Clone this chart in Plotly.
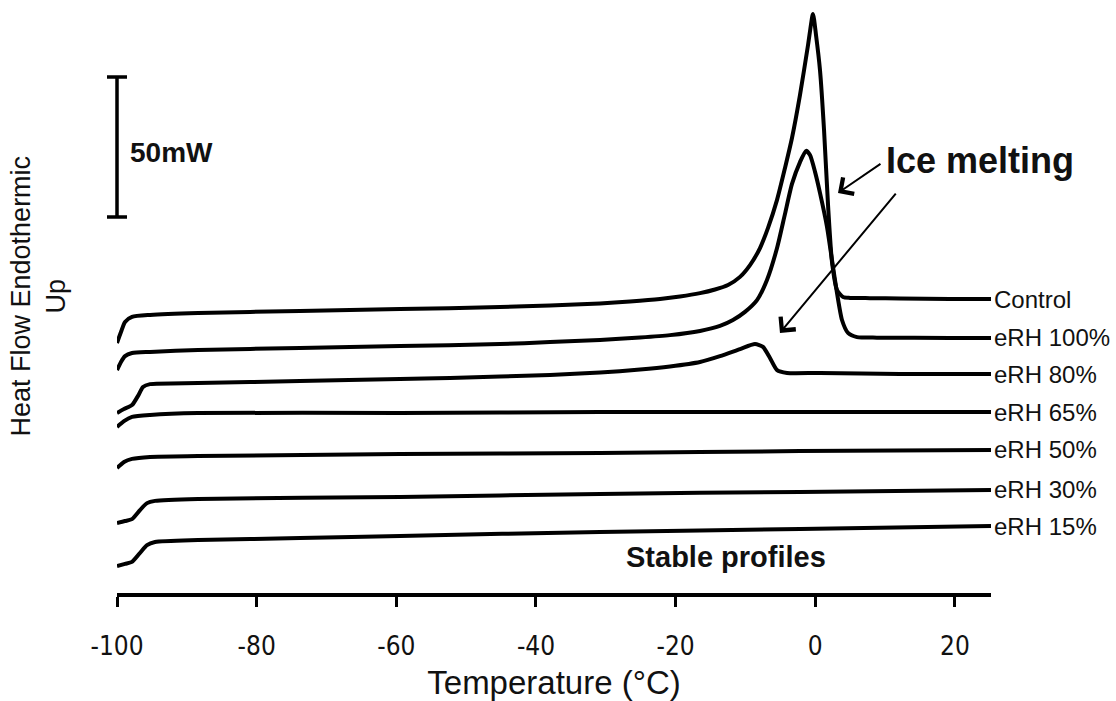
import plotly.graph_objects as go

# DSC heating scans, heat flow (mW, curves offset vertically) vs temperature (°C)
series_names = ["Control", "eRH 100%", "eRH 80%", "eRH 65%", "eRH 50%", "eRH 30%", "eRH 15%"]

control_t = [-100.0, -99.43, -98.85, -97.85, -95.27, -88.40, -73.79, -59.47, -45.15, -37.99,
             -30.83, -26.54, -22.24, -19.38, -16.51, -14.36, -12.50, -10.78, -9.35, -7.92,
             -6.77, -5.48, -4.34, -3.34, -2.19, -1.04, -0.33, 0.10, 0.67, 1.25,
             1.82, 2.39, 3.11, 3.97, 4.97, 7.83, 12.13, 19.29, 25.16]
control_hf = [89.3, 93.2, 96.8, 98.6, 99.3, 100.0, 100.7, 101.4, 102.1, 102.7,
              103.4, 104.1, 105.0, 105.9, 107.1, 108.4, 110.0, 112.9, 117.1, 123.2,
              130.4, 140.4, 151.8, 162.5, 177.9, 195.7, 206.8, 199.3, 186.8, 165.4,
              138.6, 118.2, 108.2, 105.7, 105.4, 105.3, 105.2, 105.0, 105.0]

rh100_t = [-100.0, -99.43, -98.85, -97.85, -95.27, -88.40, -73.79, -59.47, -45.15, -37.99,
           -30.83, -25.10, -20.81, -16.51, -13.65, -11.79, -10.07, -8.35, -6.92, -5.48,
           -4.34, -3.34, -2.19, -1.33, -0.76, -0.04, 0.67, 1.68, 2.39, 3.11,
           3.82, 4.68, 5.97, 8.83, 19.29, 25.16]
rh100_hf = [79.6, 82.5, 84.6, 85.7, 86.1, 86.8, 87.5, 88.2, 88.9, 89.6,
            90.4, 91.25, 92.1, 93.6, 95.4, 97.5, 100.4, 104.6, 111.8, 123.2,
            135.4, 146.1, 153.9, 157.9, 156.4, 150.4, 142.9, 130.7, 118.9, 107.1,
            97.5, 92.9, 91.4, 91.2, 91.1, 91.1]

rh80_t = [-100.0, -99.00, -97.85, -96.99, -96.28, -95.27, -88.40, -73.79, -59.47, -52.31,
          -45.15, -37.99, -30.83, -25.10, -20.81, -16.51, -13.65, -10.78, -8.64, -7.49,
          -6.49, -5.48, -4.05, 0.67, 12.13, 25.16]
rh80_hf = [64.3, 65.7, 67.1, 70.4, 73.6, 74.6, 75.0, 75.7, 76.4, 76.8,
           77.3, 77.9, 78.75, 79.8, 80.9, 82.5, 84.6, 87.1, 88.9, 87.9,
           83.9, 79.6, 78.6, 78.6, 78.2, 78.2]

rh65_t = [-100.0, -99.00, -97.85, -95.27, -88.40, -59.47, -30.83, -2.19, 25.16]
rh65_hf = [59.3, 61.4, 62.9, 63.6, 64.3, 64.3, 64.6, 64.6, 64.6]

rh50_t = [-100.0, -99.00, -97.85, -95.27, -88.40, -59.47, -30.83, -2.19, 25.16]
rh50_hf = [44.6, 46.8, 47.9, 48.6, 48.9, 49.6, 50.0, 50.7, 51.1]

rh30_t = [-100.0, -98.85, -97.85, -96.71, -95.70, -94.56, -88.40, -59.47, -30.83, -2.19, 25.16]
rh30_hf = [25.0, 25.7, 26.4, 29.6, 32.1, 32.9, 33.6, 34.3, 35.4, 36.1, 36.8]

rh15_t = [-100.0, -98.85, -97.85, -96.71, -95.70, -94.56, -88.40, -73.79, -59.47, -30.83, -2.19, 25.16]
rh15_hf = [9.6, 10.4, 11.1, 14.3, 17.1, 18.2, 18.9, 19.6, 20.4, 21.8, 22.9, 23.9]

series_t = [control_t, rh100_t, rh80_t, rh65_t, rh50_t, rh30_t, rh15_t]
series_hf = [control_hf, rh100_hf, rh80_hf, rh65_hf, rh50_hf, rh30_hf, rh15_hf]

# scale bar (mW) and x ticks
scale_bar_mw = 50
scale_bar_base = 134.3
scale_bar_t = -100.0
x_ticks = [-100, -80, -60, -40, -20, 0, 20]

x_min, x_max = -100.0, 25.16
FONT = "Arial, 'Liberation Sans', Helvetica, sans-serif"
NARROW = "'Liberation Sans Narrow', 'Arial Narrow', 'DejaVu Sans Condensed', Arial, sans-serif"
INK = "#111111"

# figure geometry: the visible temperature axis starts a little inside the
# plotting area so the scale bar's caps (on a hidden twin axis) are not clipped
W, H = 1116, 701
M_L, M_R, M_T, M_B = 100, 125, 0, 108
plot_w = W - M_L - M_R
axis_px = 874  # width of the visible temperature axis
x_dom0 = 1 - axis_px / plot_w
px_per_deg = axis_px / (x_max - x_min)
x2_min = x_min - (plot_w - axis_px) / px_per_deg

fig = go.Figure()

for name, t, hf in zip(series_names, series_t, series_hf):
    fig.add_trace(go.Scatter(
        x=t, y=hf, mode="lines", name=name,
        line=dict(color="black", width=4, shape="spline", smoothing=0.6),
        showlegend=False, hoverinfo="skip",
    ))

# vertical scale bar drawn as an error bar with caps
fig.add_trace(go.Scatter(
    x=[scale_bar_t], y=[scale_bar_base], mode="markers", xaxis="x2", yaxis="y",
    marker=dict(size=1, color="rgba(0,0,0,0)"),
    error_y=dict(type="data", array=[scale_bar_mw], arrayminus=[0], symmetric=False,
                 color="black", thickness=3.5, width=10),
    cliponaxis=False, showlegend=False, hoverinfo="skip",
))

annotations = []
for name, t, hf in zip(series_names, series_t, series_hf):
    annotations.append(dict(
        x=t[-1], y=hf[-1], xref="x", yref="y", text=name, showarrow=False,
        xanchor="left", yanchor="middle", xshift=1,
        font=dict(family=FONT, size=24, color=INK),
    ))

annotations += [
    dict(x=scale_bar_t + 1.6, y=scale_bar_base + scale_bar_mw * 0.46, xref="x", yref="y",
         text="<b>50mW</b>", showarrow=False, xanchor="left", yanchor="middle",
         font=dict(family=FONT, size=28, color=INK)),
    dict(x=9.9, y=154.6, xref="x", yref="y", text="<b>Ice melting</b>", showarrow=False,
         xanchor="left", yanchor="middle", font=dict(family=FONT, size=36, color=INK)),
    dict(x=-12.8, y=12.8, xref="x", yref="y", text="<b>Stable profiles</b>", showarrow=False,
         xanchor="center", yanchor="middle", font=dict(family=FONT, size=29, color=INK)),
    # arrows pointing to the melting events
    dict(x=3.25, y=142.9, ax=9.55, ay=153.6, xref="x", yref="y", axref="x", ayref="y",
         text="", showarrow=True, arrowhead=4, arrowsize=1.9, arrowwidth=2, arrowcolor="black"),
    dict(x=-5.06, y=92.9, ax=11.7, ay=143.2, xref="x", yref="y", axref="x", ayref="y",
         text="", showarrow=True, arrowhead=4, arrowsize=1.9, arrowwidth=2, arrowcolor="black"),
    # y-axis title
    dict(x=(38 - M_L) / plot_w, y=0.5, xref="paper", yref="paper",
         text="Heat Flow Endothermic<br>Up",
         textangle=-90, showarrow=False, xanchor="center", yanchor="middle",
         font=dict(family=FONT, size=27, color=INK)),
]

fig.update_layout(
    width=W, height=H, autosize=False,
    margin=dict(l=M_L, r=M_R, t=M_T, b=M_B),
    paper_bgcolor="white", plot_bgcolor="rgba(0,0,0,0)",
    annotations=annotations,
    xaxis=dict(
        domain=[x_dom0, 1], range=[x_min, x_max],
        tickvals=x_ticks, ticktext=[str(v) for v in x_ticks],
        showline=True, linecolor="black", linewidth=4, mirror=False,
        ticks="outside", ticklen=10, tickwidth=3, tickcolor="black",
        ticklabelstandoff=17,
        showgrid=False, zeroline=False,
        tickfont=dict(family=NARROW, size=26, color=INK),
        title=dict(text="Temperature (°C)", font=dict(family=FONT, size=33, color=INK), standoff=15),
    ),
    xaxis2=dict(
        domain=[0, 1], range=[x2_min, x_max], visible=False, anchor="y",
        showgrid=False, zeroline=False,
    ),
    yaxis=dict(
        range=[0, 593 / 2.8], visible=False, showgrid=False, zeroline=False,
    ),
)

fig.write_html("out.html")
